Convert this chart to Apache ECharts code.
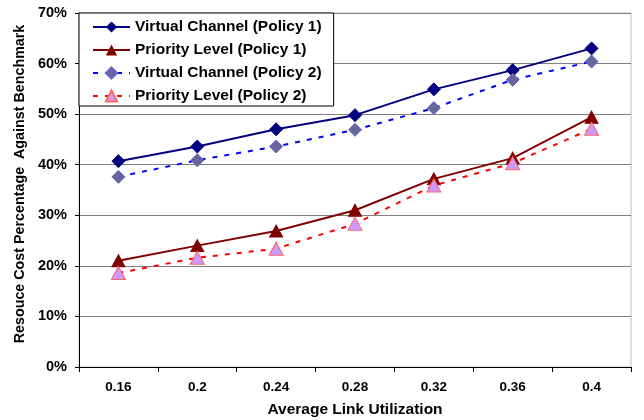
<!DOCTYPE html>
<html><head><meta charset="utf-8">
<script src="https://cdn.jsdelivr.net/npm/echarts@6/dist/echarts.min.js"></script>
<style>html,body{margin:0;padding:0;background:#fff}#c{width:644px;height:420px}</style>
</head><body><div id="c"></div>
<script>
const categories = ['0.16','0.2','0.24','0.28','0.32','0.36','0.4'];
const vcPolicy1 = [40.7, 43.6, 47.0, 49.8, 54.9, 58.7, 63.0];
const plPolicy1 = [21.0, 24.0, 26.9, 31.0, 37.2, 41.3, 49.4];
const vcPolicy2 = [37.6, 40.9, 43.6, 46.9, 51.2, 56.8, 60.4];
const plPolicy2 = [18.6, 21.6, 23.4, 28.3, 35.9, 40.3, 47.1];
const seriesNames = ['Virtual Channel (Policy 1)','Priority Level (Policy 1)','Virtual Channel (Policy 2)','Priority Level (Policy 2)'];
const xTitle = 'Average Link Utilization';
const yTitle = 'Resouce Cost Percentage  Against Benchmark';

const font = 'Liberation Sans, Arial, sans-serif';
const chart = echarts.init(document.getElementById('c'), null, {renderer:'canvas'});
chart.setOption({
  animation:false,
  backgroundColor:'#fff',
  grid:{left:79, right:13, top:13, bottom:53, show:true, borderColor:'#c0c0c0', borderWidth:1,
        containLabel:false, outerBoundsMode:'none'},
  graphic:[{
    type:'text', x:20, y:184, rotation:Math.PI/2,
    style:{text:yTitle, fontFamily:font, fontWeight:'bold', fontSize:14.3, fill:'#000',
           align:'center', verticalAlign:'middle'}
  }],
  legend:{
    orient:'vertical', left:79, top:13,
    data:seriesNames,
    itemWidth:37, itemHeight:14, itemGap:7,
    padding:[6,12,2,13],
    backgroundColor:'#fff', borderColor:'#000', borderWidth:1,
    textStyle:{fontFamily:font, fontWeight:'bold', fontSize:15.5, color:'#000'}
  },
  xAxis:{
    type:'category', data:categories, boundaryGap:true,
    name:xTitle, nameLocation:'middle', nameGap:35,
    nameTextStyle:{fontFamily:font, fontWeight:'bold', fontSize:15.5, color:'#000'},
    axisLine:{lineStyle:{color:'#000', width:1}},
    axisTick:{show:true, length:5, lineStyle:{color:'#000'}},
    axisLabel:{fontFamily:font, fontWeight:'bold', fontSize:13.5, color:'#000', margin:13},
    splitLine:{show:false}
  },
  yAxis:{
    type:'value', min:0, max:70, interval:10,
    axisLine:{show:true, lineStyle:{color:'#000', width:1}},
    axisTick:{show:true, length:4, lineStyle:{color:'#000'}},
    axisLabel:{formatter:'{value}%', fontFamily:font, fontWeight:'bold', fontSize:14.5, color:'#000', margin:12},
    splitLine:{show:true, lineStyle:{color:'#808080', width:1}}
  },
  series:[
    {name:seriesNames[0], type:'line', data:vcPolicy1, symbol:'diamond', symbolSize:13,
     lineStyle:{color:'#000080', width:2}, itemStyle:{color:'#000080', borderColor:'#000080'}},
    {name:seriesNames[1], type:'line', data:plPolicy1, symbol:'triangle', symbolSize:[13,12],
     lineStyle:{color:'#800000', width:2}, itemStyle:{color:'#800000', borderColor:'#800000'}},
    {name:seriesNames[2], type:'line', data:vcPolicy2, symbol:'diamond', symbolSize:13,
     lineStyle:{color:'#0000ff', width:2, type:[5,7]}, itemStyle:{color:'#666699', borderColor:'#6666cc', borderWidth:1}},
    {name:seriesNames[3], type:'line', data:plPolicy2, symbol:'triangle', symbolSize:[14,13],
     lineStyle:{color:'#ff0000', width:2, type:[5,7]}, itemStyle:{color:'#cc99ff', borderColor:'#ff6666', borderWidth:1}}
  ]
});
</script></body></html>
